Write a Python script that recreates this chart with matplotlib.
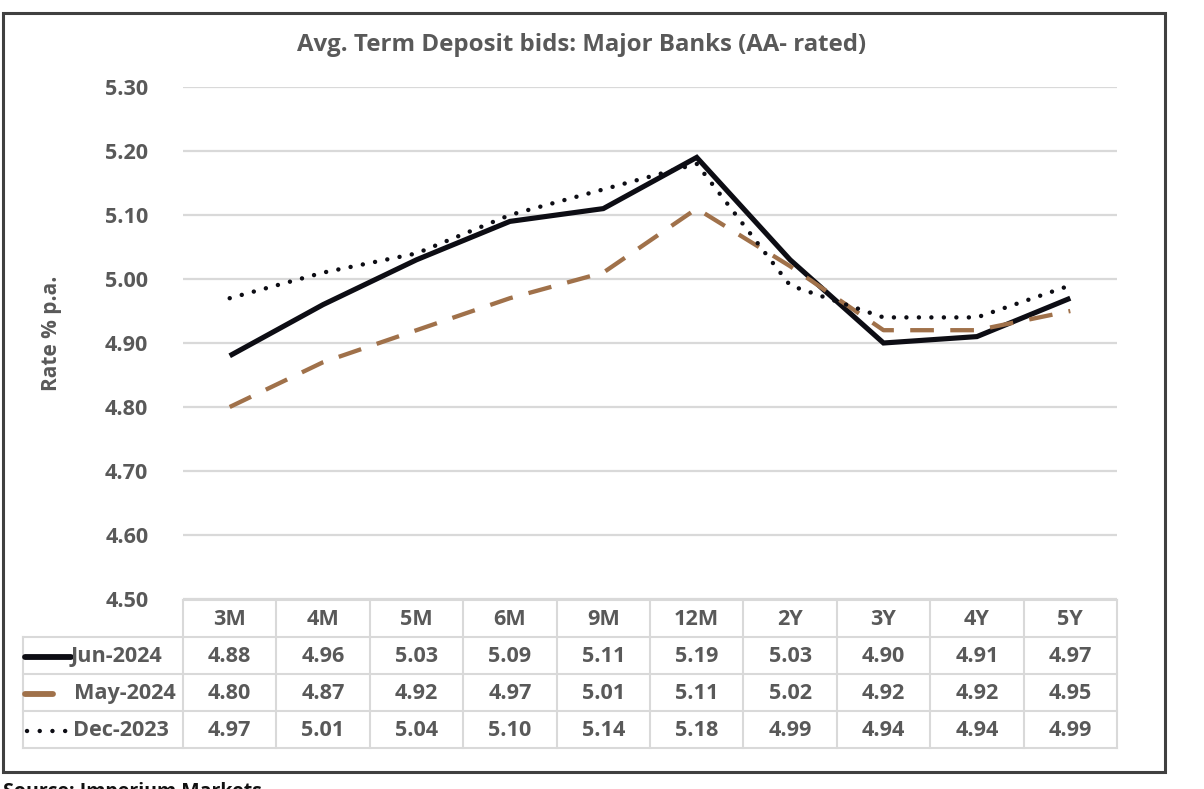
import matplotlib
matplotlib.use("Agg")
import matplotlib.pyplot as plt
from matplotlib.patches import Rectangle
from matplotlib.lines import Line2D
import matplotlib.transforms as mtransforms

# ---- data ----
tenors = ["3M", "4M", "5M", "6M", "9M", "12M", "2Y", "3Y", "4Y", "5Y"]
jun_2024 = [4.88, 4.96, 5.03, 5.09, 5.11, 5.19, 5.03, 4.90, 4.91, 4.97]
may_2024 = [4.80, 4.87, 4.92, 4.97, 5.01, 5.11, 5.02, 4.92, 4.92, 4.95]
dec_2023 = [4.97, 5.01, 5.04, 5.10, 5.14, 5.18, 4.99, 4.94, 4.94, 4.99]
series_names = ["Jun-2024", "May-2024", "Dec-2023"]
y_ticks = [4.50, 4.60, 4.70, 4.80, 4.90, 5.00, 5.10, 5.20, 5.30]
title = "Avg. Term Deposit bids: Major Banks (AA- rated)"
ylabel = "Rate % p.a."
source = "Source: Imperium Markets"

FONT = "Open Sans"
TXT = "#595959"
GRID = "#d9d9d9"
BROWN = "#a0714a"
BLACK = "#0d0d14"
FS = 15.6

W, H = 1204, 789
fig = plt.figure(figsize=(W / 100, H / 100), dpi=100)
plt.rcParams["font.family"] = [FONT, "DejaVu Sans"]

def fx(px):
    return px / W

def fy(py):
    return 1 - py / H

# outer border
fig.patches.append(Rectangle((fx(3), fy(772)), fx(1165) - fx(3), fy(13) - fy(772),
                             transform=fig.transFigure, fill=False,
                             edgecolor="#404040", linewidth=2.2))

ax = fig.add_axes([fx(183), fy(599), fx(1117) - fx(183), fy(87) - fy(599)])
x = list(range(len(tenors)))

styles = [
    dict(color=BLACK, lw=3.7, ls="-", solid_capstyle="butt", solid_joinstyle="miter"),
    dict(color=BROWN, lw=3.1, ls=(0, (5.5, 3.8)), dash_capstyle="butt"),
    dict(color=BLACK, lw=3.2, ls=(0, (0.01, 2.8)), dash_capstyle="round"),
]
ax.plot(x, jun_2024, zorder=3, **styles[0])
ax.plot(x, may_2024, zorder=4, **styles[1])
ax.plot(x, dec_2023, zorder=5, **styles[2])

ax.set_xlim(-0.5, len(tenors) - 0.5)
ax.set_ylim(4.50, 5.30)
ax.set_yticks(y_ticks)
ax.set_yticklabels([f"{v:.2f}" for v in y_ticks], fontsize=FS, color=TXT,
                   fontweight="bold")
ax.tick_params(axis="y", length=0, pad=25)
ax.set_xticks([])
for s in ax.spines.values():
    s.set_visible(False)
ax.grid(axis="y", color=GRID, linewidth=1.6)
ax.set_axisbelow(True)

fig.text(fx(582), fy(45), title, ha="center", va="center", fontsize=17.3,
         color=TXT, fontweight="bold")
fig.text(fx(52), fy(333), ylabel, ha="center", va="center", rotation=90,
         fontsize=15, color=TXT, fontweight="bold")

# ---- data table ----
row_edges = [600, 637, 674, 711, 748]
blend = mtransforms.blended_transform_factory(ax.transData, fig.transFigure)
for i in range(len(tenors) + 1):
    fig.add_artist(Line2D([i - 0.5, i - 0.5], [fy(row_edges[0]), fy(row_edges[-1])],
                          transform=blend, color=GRID, lw=1.5))
fig.add_artist(Line2D([fx(23), fx(23)], [fy(row_edges[1]), fy(row_edges[-1])],
                      transform=fig.transFigure, color=GRID, lw=1.5))
fig.add_artist(Line2D([-0.5, len(tenors) - 0.5], [fy(row_edges[0])] * 2,
                      transform=blend, color=GRID, lw=1.5))
for r in row_edges[1:]:
    fig.add_artist(Line2D([fx(23), fx(1117)], [fy(r)] * 2,
                          transform=fig.transFigure, color=GRID, lw=1.5))

def rc(k):
    return fy((row_edges[k] + row_edges[k + 1]) / 2 + 1)

for i, t in enumerate(tenors):
    fig.text(i, rc(0), t, transform=blend, ha="center", va="center",
             fontsize=FS, color=TXT, fontweight="bold")
for k, vals in enumerate([jun_2024, may_2024, dec_2023]):
    for i, v in enumerate(vals):
        fig.text(i, rc(k + 1), f"{v:.2f}", transform=blend, ha="center",
                 va="center", fontsize=FS, color=TXT, fontweight="bold")

# legend keys and labels
key_spans = [(25, 71), (25, 53), (27, 69)]
key_styles = [
    dict(color=BLACK, lw=4.2, ls="-", solid_capstyle="round"),
    dict(color=BROWN, lw=4.2, ls="-", solid_capstyle="round"),
    dict(color=BLACK, lw=3.2, ls=(0, (0.01, 2.85)), dash_capstyle="round"),
]
label_x = [71, 74, 73]
for k, name in enumerate(series_names):
    y = rc(k + 1)
    x0, x1 = key_spans[k]
    fig.add_artist(Line2D([fx(x0), fx(x1)], [y, y], transform=fig.transFigure,
                          **key_styles[k]))
    fig.text(fx(label_x[k]), y, name, ha="left", va="center", fontsize=FS,
             color=TXT, fontweight="bold")

fig.text(fx(3), fy(782), source, ha="left", va="top", fontsize=14,
         color="#111111", fontweight="bold")

fig.savefig("out.png", dpi=100, facecolor="white")
